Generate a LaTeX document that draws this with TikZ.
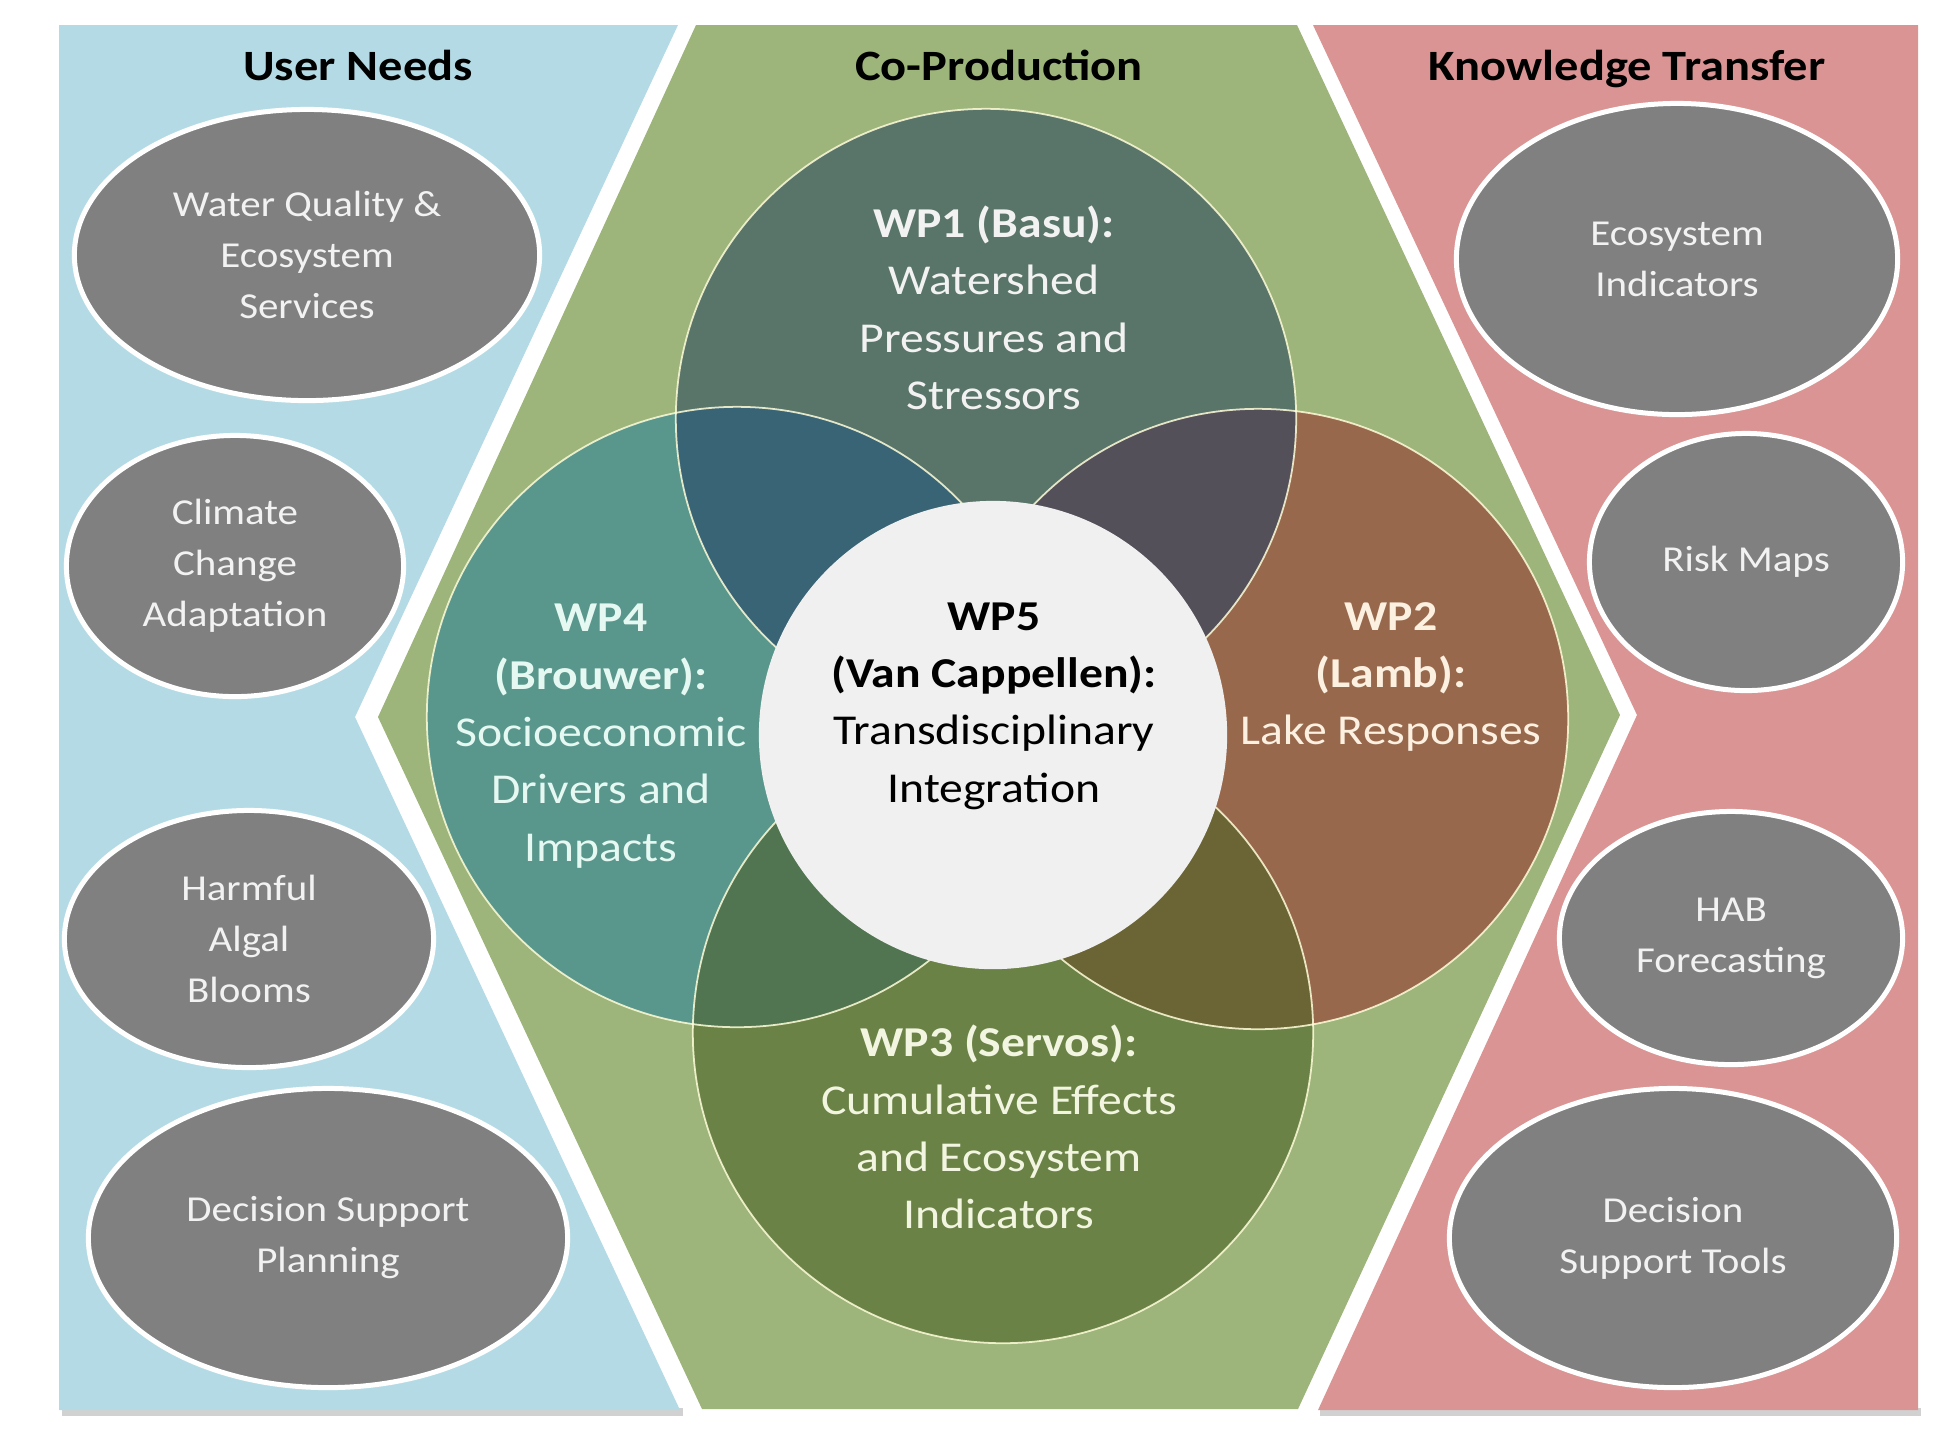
\documentclass[tikz,border=0pt]{standalone}
\usepackage{fontspec}
\setmainfont{Carlito}[FakeStretch=1.12]
\usetikzlibrary{shapes.geometric}

% panel colours
\definecolor{needblue}{RGB}{180,219,229}
\definecolor{coprodgreen}{RGB}{157,180,122}
\definecolor{transferred}{RGB}{218,148,148}
\definecolor{itemgrey}{RGB}{128,128,128}
\definecolor{itemtext}{RGB}{242,242,242}
% work package colours and their overlaps
\definecolor{wponefill}{RGB}{89,116,104}
\definecolor{wptwofill}{RGB}{151,104,76}
\definecolor{wpthreefill}{RGB}{107,130,70}
\definecolor{wpfourfill}{RGB}{89,150,140}
\definecolor{wpfivefill}{RGB}{240,240,240}
\definecolor{wponefour}{RGB}{56,100,118}
\definecolor{wponetwo}{RGB}{84,80,90}
\definecolor{wpthreefour}{RGB}{80,117,80}
\definecolor{wptwothree}{RGB}{107,101,53}

\tikzset{
  paneltitle/.style={anchor=base, font=\fontsize{12.3pt}{15pt}\selectfont\bfseries},
  itembox/.style={ellipse, fill=itemgrey, draw=white, line width=0.05cm, inner sep=0pt,
    align=center, text=itemtext, font=\fontsize{10.4pt}{14.5pt}\selectfont},
  wptext/.style={align=center, font=\fontsize{12.1pt}{16.3pt}\selectfont},
  rim/.style={draw=white!85!yellow, line width=0.5pt, opacity=0.85},
}

\begin{document}
\begin{tikzpicture}[x=0.01cm, y=-0.01cm, line join=round, line cap=round]
\useasboundingbox (0,0) rectangle (1934,1429);
% radii of the work package circles
\def\rwp{3.1cm}
\def\rmid{2.34cm}
% soft shadow under the side panels
\fill[black!18] (62,1408) rectangle (683,1416);
\fill[black!18] (1320,1408) rectangle (1921,1416);
% the three panels
\fill[needblue] (59,25) -- (678,25) -- (355,717) -- (680,1410) -- (59,1410) -- cycle;
\fill[coprodgreen] (696,25) -- (1297,25) -- (1620,715) -- (1298,1409) -- (702,1409) -- (378,717) -- cycle;
\fill[transferred] (1313,25) -- (1918,25) -- (1918,1410) -- (1318,1410) -- (1637,715) -- cycle;
% panel titles
\node[paneltitle] (needtitle) at (358,80) {User Needs};
\node[paneltitle] (coprodtitle) at (999,80) {Co-Production};
\node[paneltitle] (transfertitle) at (1627,80) {Knowledge Transfer};
% centres of the work packages
\coordinate (wpone) at (986,419);
\coordinate (wptwo) at (1258,719);
\coordinate (wpthree) at (1003,1033);
\coordinate (wpfour) at (737,717);
\coordinate (wpfive) at (993,735);
% the four outer circles
\fill[wpthreefill] (wpthree) circle[radius=\rwp];
\fill[wpfourfill] (wpfour) circle[radius=\rwp];
\fill[wptwofill] (wptwo) circle[radius=\rwp];
\fill[wponefill] (wpone) circle[radius=\rwp];
% overlaps
\begin{scope}
\clip (wpone) circle[radius=\rwp];
\fill[wponefour] (wpfour) circle[radius=\rwp];
\fill[wponetwo] (wptwo) circle[radius=\rwp];
\end{scope}
\begin{scope}
\clip (wpthree) circle[radius=\rwp];
\fill[wpthreefour] (wpfour) circle[radius=\rwp];
\fill[wptwothree] (wptwo) circle[radius=\rwp];
\end{scope}
% thin rims
\foreach \c in {wpone,wptwo,wpthree,wpfour}
  \draw[rim] (\c) circle[radius=\rwp];
% middle circle
\fill[wpfivefill] (wpfive) circle[radius=\rmid];
% work package labels
\node[wptext, text=itemtext] (wponetext) at (994,308)
  {\textbf{WP1 (Basu):}\\Watershed\\Pressures and\\Stressors};
\node[wptext, text={rgb,255:red,230;green,248;blue,242}] (wpfourtext) at (601,736)
  {\textbf{WP4}\\\textbf{(Brouwer):}\\Socioeconomic\\Drivers and\\Impacts};
\node[wptext, text={rgb,255:red,252;green,240;blue,225}] (wptwotext) at (1391,677)
  {\textbf{WP2}\\\textbf{(Lamb):}\\Lake Responses};
\node[wptext, text={rgb,255:red,242;green,246;blue,225}] (wpthreetext) at (999,1127)
  {\textbf{WP3 (Servos):}\\Cumulative Effects\\and Ecosystem\\Indicators};
\node[wptext, text=black] (wpfivetext) at (994,706)
  {\textbf{WP5}\\\textbf{(Van Cappellen):}\\Transdisciplinary\\Integration};
% user needs
\node[itembox, minimum width=4.65cm, minimum height=2.91cm] (needwater) at (307,255)
  {Water Quality \&\\Ecosystem\\Services};
\node[itembox, minimum width=3.37cm, minimum height=2.61cm] (needclimate) at (235,566)
  {Climate\\Change\\Adaptation};
\node[itembox, minimum width=3.69cm, minimum height=2.57cm] (needalgal) at (249,939)
  {Harmful\\Algal\\Blooms};
\node[itembox, minimum width=4.79cm, minimum height=2.99cm] (needplanning) at (328,1238)
  {Decision Support\\Planning};
% knowledge transfer
\node[itembox, minimum width=4.41cm, minimum height=3.11cm] (outindicators) at (1677,259)
  {Ecosystem\\Indicators};
\node[itembox, minimum width=3.13cm, minimum height=2.57cm] (outrisk) at (1746,562)
  {Risk Maps};
\node[itembox, minimum width=3.43cm, minimum height=2.53cm] (outhab) at (1731,938)
  {HAB\\Forecasting};
\node[itembox, minimum width=4.47cm, minimum height=2.99cm] (outtools) at (1673,1238)
  {Decision\\Support Tools};
\end{tikzpicture}
\end{document}
